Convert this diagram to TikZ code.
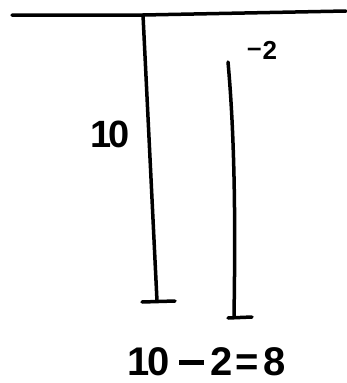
\documentclass[tikz,border=0pt]{standalone}
\usepackage{fontspec}
\setmainfont{Liberation Sans}
\begin{document}
\begin{tikzpicture}[x=1pt,y=-1pt,
  stroke/.style={line width=3.5pt,line cap=round,black},
  lbl/.style={font=\bfseries\fontsize{40}{40}\selectfont,inner sep=0pt}]
\useasboundingbox (0,0) rectangle (346,383);
\coordinate (tl) at (12,15);
\coordinate (tr) at (346,11);
\coordinate (a1) at (143,15);
\coordinate (a2) at (157,301);
\coordinate (t1l) at (142,302);
\coordinate (t1r) at (175,301);
\coordinate (b1) at (228,62);
\coordinate (b2) at (234,317);
\coordinate (t2l) at (228,318);
\coordinate (t2r) at (252,317);
\draw[stroke] (tl) -- (a1) -- (tr);
\draw[stroke] (a1) -- (a2);
\draw[stroke] (t1l) -- (t1r);
\draw[stroke] (b1) .. controls (236,150) and (235,250) .. (b2);
\draw[stroke] (t2l) -- (t2r);
\node[lbl,font=\bfseries\fontsize{38}{38}\selectfont] (ten) at (110,134) {1\kern-3pt 0};
\node[lbl,font=\bfseries\fontsize{26}{26}\selectfont] (m2) at (262,50) {\raisebox{3pt}{–}\kern1pt 2};
\node[lbl] (eq) at (207,362) {1\kern-3pt 0\kern10pt\raisebox{11pt}{\rule{25pt}{4.5pt}}\kern6pt 2\kern3pt=\kern5pt 8};
\end{tikzpicture}
\end{document}
